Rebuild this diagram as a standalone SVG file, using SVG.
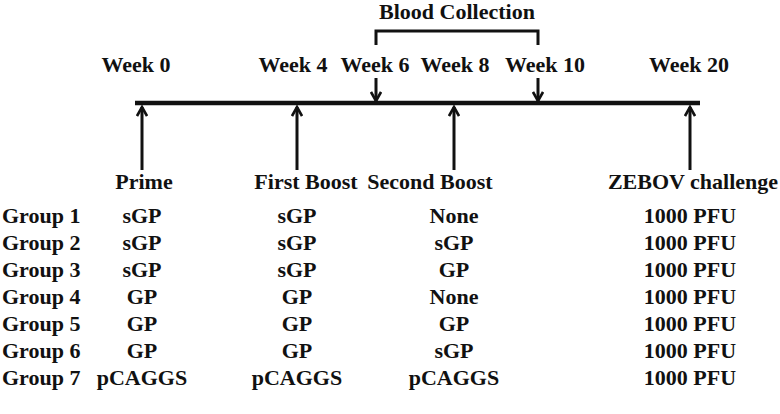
<svg xmlns="http://www.w3.org/2000/svg" width="780" height="414" viewBox="0 0 780 414">
<style>
text{font-family:'Liberation Serif','Times New Roman',Times,serif;font-weight:700;font-size:22px;fill:#111}
.c{text-anchor:middle}
.ln{stroke:#111;stroke-width:3;fill:none}
</style>
<defs>
<marker id="ah" viewBox="0 0 12 12" refX="10" refY="6" markerWidth="12" markerHeight="12" markerUnits="userSpaceOnUse" orient="auto">
<path d="M1,1 L10,6 L1,11" fill="none" stroke="#111" stroke-width="2.6"/>
</marker>
</defs>
<rect width="780" height="414" fill="#fff"/>
<g id="timeline">
<line x1="135" y1="103" x2="700" y2="103" stroke="#111" stroke-width="4.5"/>
</g>
<g id="blood-collection">
<text class="c" x="457" y="19" font-family="Liberation Serif">Blood Collection</text>
<path class="ln" d="M376,45 V31 H538 V45"/>
</g>
<g id="weeks" font-family="Liberation Serif">
<text class="c" x="136" y="72">Week 0</text>
<text class="c" x="293" y="72">Week 4</text>
<text class="c" x="375" y="72">Week 6</text>
<text class="c" x="455" y="72">Week 8</text>
<text class="c" x="545" y="72">Week 10</text>
<text class="c" x="689" y="72">Week 20</text>
</g>
<g id="connectors">
<line class="ln" x1="376" y1="78" x2="376" y2="101" marker-end="url(#ah)"/>
<line class="ln" x1="538" y1="78" x2="538" y2="101" marker-end="url(#ah)"/>
<line class="ln" x1="142" y1="170" x2="142" y2="107" marker-end="url(#ah)"/>
<line class="ln" x1="297" y1="170" x2="297" y2="107" marker-end="url(#ah)"/>
<line class="ln" x1="454" y1="170" x2="454" y2="107" marker-end="url(#ah)"/>
<line class="ln" x1="690" y1="170" x2="690" y2="107" marker-end="url(#ah)"/>
</g>
<g id="headers">
<text class="c" x="144" y="189">Prime</text>
<text class="c" x="306" y="189">First Boost</text>
<text class="c" x="430" y="189">Second Boost</text>
<text class="c" x="693" y="189">ZEBOV challenge</text>
</g>
<g id="table">
<g id="group1"><text x="2" y="223">Group 1</text><text class="c" x="142" y="223">sGP</text><text class="c" x="297" y="223">sGP</text><text class="c" x="454" y="223">None</text><text class="c" x="690" y="223">1000 PFU</text></g>
<g id="group2"><text x="2" y="250">Group 2</text><text class="c" x="142" y="250">sGP</text><text class="c" x="297" y="250">sGP</text><text class="c" x="454" y="250">sGP</text><text class="c" x="690" y="250">1000 PFU</text></g>
<g id="group3"><text x="2" y="277">Group 3</text><text class="c" x="142" y="277">sGP</text><text class="c" x="297" y="277">sGP</text><text class="c" x="454" y="277">GP</text><text class="c" x="690" y="277">1000 PFU</text></g>
<g id="group4"><text x="2" y="304">Group 4</text><text class="c" x="142" y="304">GP</text><text class="c" x="297" y="304">GP</text><text class="c" x="454" y="304">None</text><text class="c" x="690" y="304">1000 PFU</text></g>
<g id="group5"><text x="2" y="331">Group 5</text><text class="c" x="142" y="331">GP</text><text class="c" x="297" y="331">GP</text><text class="c" x="454" y="331">GP</text><text class="c" x="690" y="331">1000 PFU</text></g>
<g id="group6"><text x="2" y="358">Group 6</text><text class="c" x="142" y="358">GP</text><text class="c" x="297" y="358">GP</text><text class="c" x="454" y="358">sGP</text><text class="c" x="690" y="358">1000 PFU</text></g>
<g id="group7"><text x="2" y="385">Group 7</text><text class="c" x="142" y="385">pCAGGS</text><text class="c" x="297" y="385">pCAGGS</text><text class="c" x="454" y="385">pCAGGS</text><text class="c" x="690" y="385">1000 PFU</text></g>
</g>
</svg>
